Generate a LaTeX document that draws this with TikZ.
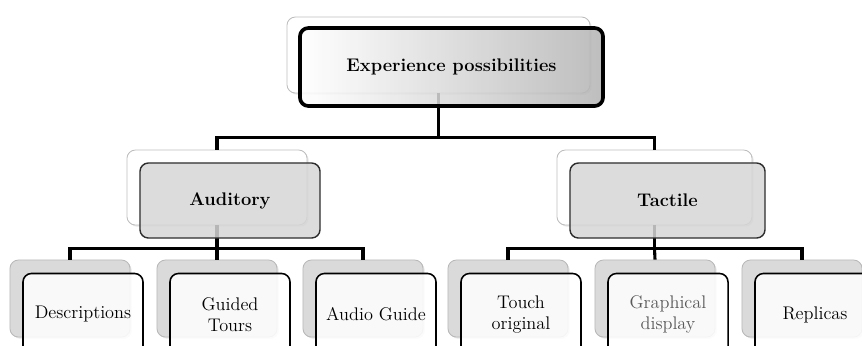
\documentclass[tikz,border=0pt]{standalone}
\definecolor{backline}{RGB}{190, 190, 190}
\definecolor{leafgray}{RGB}{218, 218, 218}
\definecolor{midgray}{RGB}{214, 214, 214}
\definecolor{edgegray}{RGB}{45, 45, 45}
\usepackage{tikz}
\usetikzlibrary{calc, shadows, backgrounds}

\begin{document}
\begin{tikzpicture}[x=0.025cm, y=-0.025cm,
  backbox/.style={draw=backline, fill=white, rounded corners=6pt, line width=0.6pt,
    drop shadow={opacity=0.2, shadow xshift=1.2pt, shadow yshift=-1.2pt}},
  frontbox/.style={rounded corners=6pt, align=center, fill opacity=0.85, text opacity=1},
  leafback/.style={backbox, draw=leafgray!85!black, fill=leafgray, minimum width=3cm, minimum height=1.925cm},
  leaffront/.style={frontbox, draw=black, line width=1.1pt, fill=white, minimum width=3cm, minimum height=2.05cm,
    font=\fontsize{13}{14.5}\selectfont},
  tree/.style={line width=2.2pt}
]
  \useasboundingbox (0,0) rectangle (862,345);

  % Top level
  \node[backbox, minimum width=7.575cm, minimum height=1.9cm] (topb) at (438.5, 55) {};
  % Second level
  \node[backbox, minimum width=4.5cm, minimum height=1.875cm] (audb) at (217, 187.5) {};
  \node[backbox, minimum width=4.875cm, minimum height=1.875cm] (tacb) at (654.5, 187.5) {};

  % Leaves
  \node[leafback] (descb) at (70, 298.5) {};
  \node[leafback] (guidb) at (217, 298.5) {};
  \node[leafback] (agb) at (363, 298.5) {};
  \node[leafback] (touchb) at (508, 298.5) {};
  \node[leafback] (graphb) at (655, 298.5) {};
  \node[leafback] (repb) at (802, 298.5) {};

  % Connectors
  \coordinate (j0) at ($(topb.south)+(0,44)$);
  \coordinate (j1) at ($(audb.south)+(0,23)$);
  \coordinate (j2) at ($(tacb.south)+(0,23)$);
  \draw[tree] (topb.south) -- (j0) -| (audb.north);
  \draw[tree] (j0) -| (tacb.north);
  \draw[tree] (audb.south) -- (j1) -| (descb.north);
  \draw[tree] (j1) -| (agb.north);
  \draw[tree] (j1) -- (guidb.north);
  \draw[tree] (tacb.south) -- (j2) -| (touchb.north);
  \draw[tree] (j2) -| (repb.north);
  \draw[tree] (j2) -- (graphb.north);

  % Front boxes
  \node[frontbox, draw=black, line width=2.6pt, left color=white, right color=black!30,
    minimum width=7.575cm, minimum height=1.95cm, font=\fontsize{13}{15}\selectfont\bfseries]
    (top) at ($(topb)+(13,12)$) {Experience possibilities};
  \node[frontbox, draw=edgegray, line width=1pt, fill=midgray, minimum width=4.5cm, minimum height=1.875cm,
    font=\fontsize{13}{15}\selectfont\bfseries] (aud) at ($(audb)+(13,13)$) {Auditory};
  \node[frontbox, draw=edgegray, line width=1pt, fill=midgray, minimum width=4.875cm, minimum height=1.875cm,
    font=\fontsize{13}{15}\selectfont\bfseries] (tac) at ($(tacb)+(13,13)$) {Tactile};

  \node[leaffront] (desc) at ($(descb)+(13,16)$) {Descriptions};
  \node[leaffront] (guid) at ($(guidb)+(13,16)$) {Guided\\Tours};
  \node[leaffront] (ag) at ($(agb)+(13,16)$) {Audio Guide};
  \node[leaffront] (touch) at ($(touchb)+(13,16)$) {Touch\\original};
  \node[leaffront, text=black!65] (graph) at ($(graphb)+(13,16)$) {Graphical\\display};
  \node[leaffront] (rep) at ($(repb)+(13,16)$) {Replicas};
\end{tikzpicture}
\end{document}
